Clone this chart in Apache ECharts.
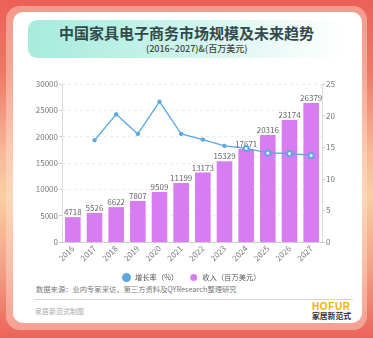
<!DOCTYPE html>
<html>
<head>
<meta charset="utf-8">
<script src="https://cdn.jsdelivr.net/npm/echarts@6/dist/echarts.min.js"></script>
<style>
  html, body { margin: 0; padding: 0; width: 373px; height: 338px; overflow: hidden; }
  body { font-family: "Noto Sans CJK SC", "Noto Sans", sans-serif; }
  #bg { position: absolute; left: 0; top: 0; width: 373px; height: 338px;
        background: linear-gradient(to bottom, #eb6057 0%, #ef7a66 22%, #f7b996 45%, #f9cfa2 58%, #f3a585 78%, #ec6459 100%); }
  #ring { position: absolute; left: 6px; top: 6px; width: 361px; height: 324px; border-radius: 14px;
          background: rgba(255,225,210,0.45); }
  #card { position: absolute; left: 13px; top: 12px; width: 349px; height: 311px; border-radius: 10px; background: #fff; }
  #band { position: absolute; left: 28px; top: 20px; width: 318px; height: 38px; border-radius: 9px;
          background: linear-gradient(to right, #a6ebdc 0%, #c9f3ea 45%, #eefbf8 80%, #ffffff 100%); }
  .t { position: absolute; white-space: nowrap; }
  #title { left: 0; width: 373px; top: 23px; text-align: center; font-size: 15px; font-weight: bold; color: #33494b; line-height: 20px; }
  #sub { left: 146px; top: 43px; font-size: 9px; color: #444; line-height: 12px; font-weight: 500; }
  #src { left: 36px; top: 284px; font-size: 7.3px; color: #777; line-height: 10px; }
  #line { position: absolute; left: 34px; top: 299px; width: 319px; height: 1px; background: #d6d6d6; }
  #foot { left: 35px; top: 306px; font-size: 7px; color: #aaa; line-height: 10px; }
  #hofur { left: 312px; top: 301px; font-size: 10px; font-weight: bold; color: #f2b300; letter-spacing: 0.6px; line-height: 12px; font-family: "Liberation Sans", sans-serif; }
  #jj { left: 312px; top: 311px; font-size: 7.8px; font-weight: bold; color: #333; line-height: 10px; }
  #chart { position: absolute; left: 0; top: 0; width: 373px; height: 338px; }
</style>
</head>
<body>
<div id="bg"></div>
<div id="ring"></div>
<div id="card"></div>
<div id="band"></div>
<div class="t" id="title">中国家具电子商务市场规模及未来趋势</div>
<div class="t" id="sub">(2016~2027)&amp;(百万美元)</div>
<div class="t" id="src">数据来源：业内专家采访，第三方资料及QYResearch整理研究</div>
<div id="line"></div>
<div class="t" id="foot">家居新范式制图</div>
<div class="t" id="hofur">HOFUR</div>
<div class="t" id="jj">家居新范式</div>
<div id="chart"></div>
<script>
const years = ['2016','2017','2018','2019','2020','2021','2022','2023','2024','2025','2026','2027'];
const revenue = [4718, 5526, 6622, 7807, 9509, 11199, 13173, 15329, 17671, 20316, 23174, 26379];
const growth = [null, 16.1, 20.2, 17.1, 22.2, 17.1, 16.2, 15.2, 14.8, 14.1, 14.0, 13.7];
const forecastFrom = 8; // index from which points are drawn hollow
const leftTicks = { min: 0, max: 30000, interval: 5000 };
const rightTicks = { min: 0, max: 25, interval: 5 };

const font = '"Noto Sans CJK SC", "Noto Sans", sans-serif';
const chart = echarts.init(document.getElementById('chart'), null, { renderer: 'canvas' });
chart.setOption({
  backgroundColor: 'transparent',
  animation: false,
  textStyle: { fontFamily: font },
  grid: { left: 62, right: 51, top: 84, bottom: 96 },
  legend: {
    left: 117, top: 268,
    itemWidth: 7, itemHeight: 7, itemGap: 12,
    icon: 'circle',
    textStyle: { fontSize: 7.3, color: '#555', fontFamily: font },
    data: ['增长率（%）', '收入（百万美元）']
  },
  xAxis: {
    type: 'category',
    data: years,
    axisLine: { lineStyle: { color: '#cfcfcf' } },
    axisTick: { show: false },
    axisLabel: { rotate: 45, fontSize: 8, color: '#777', margin: 5, interval: 0 }
  },
  yAxis: [
    {
      type: 'value', min: leftTicks.min, max: leftTicks.max, interval: leftTicks.interval,
      axisLine: { show: true, lineStyle: { color: '#dcdcdc' } },
      axisTick: { show: true, length: 3, lineStyle: { color: '#cfcfcf' } },
      axisLabel: { fontSize: 8, color: '#777', margin: 4, formatter: v => String(v) },
      splitLine: { show: true, lineStyle: { color: '#ececec', type: [3, 3] } }
    },
    {
      type: 'value', min: rightTicks.min, max: rightTicks.max, interval: rightTicks.interval,
      axisLine: { show: true, lineStyle: { color: '#dcdcdc' } },
      axisTick: { show: true, length: 3, lineStyle: { color: '#cfcfcf' } },
      axisLabel: { fontSize: 8, color: '#777', margin: 4, formatter: v => String(v) },
      splitLine: { show: false }
    }
  ],
  series: [
    {
      name: '收入（百万美元）',
      type: 'bar',
      yAxisIndex: 0,
      data: revenue,
      barWidth: '72%',
      itemStyle: { color: '#d77cf1' },
      label: { show: true, position: 'top', distance: 1, fontSize: 8, color: '#666' },
      z: 2
    },
    {
      name: '增长率（%）',
      type: 'line',
      yAxisIndex: 1,
      data: growth.map((v, i) => i >= forecastFrom
        ? { value: v, symbol: 'emptyCircle', symbolSize: 5 }
        : { value: v, symbol: 'circle', symbolSize: 3.5 }),
      lineStyle: { color: '#5aa8e2', width: 1.3 },
      itemStyle: { color: '#5aa8e2', borderColor: '#5aa8e2', borderWidth: 1 },
      z: 3
    }
  ]
});
</script>
</body>
</html>
